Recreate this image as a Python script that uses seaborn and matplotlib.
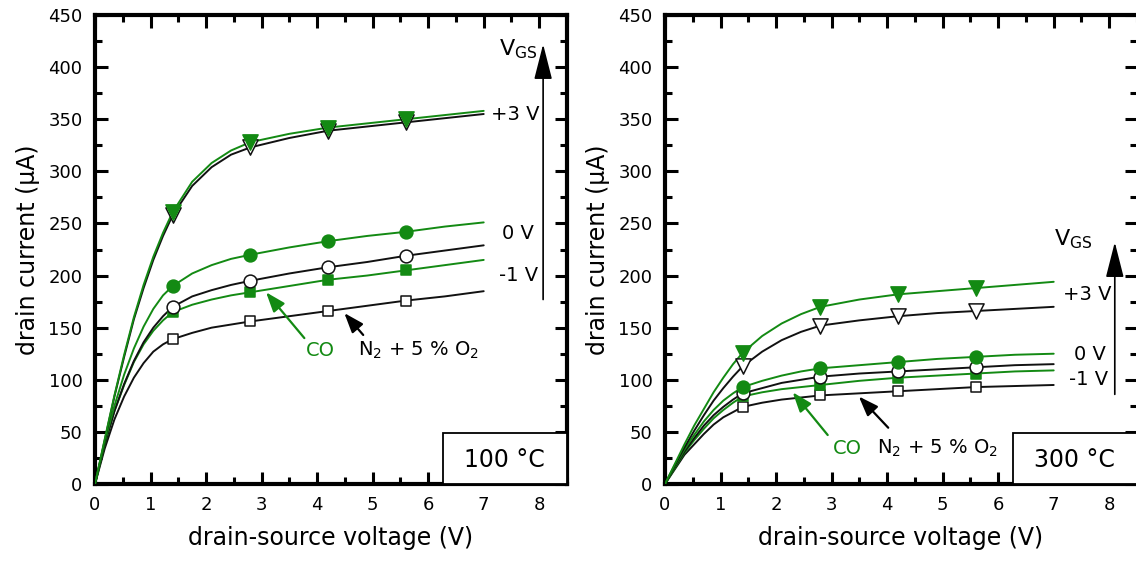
import numpy as np
import pandas as pd
import matplotlib
matplotlib.use("Agg")
import matplotlib.pyplot as plt
import seaborn as sns
from matplotlib.patches import Rectangle
from matplotlib.ticker import MultipleLocator

# ---------------- data ----------------
V = [0, 0.175, 0.35, 0.525, 0.7, 0.875, 1.05, 1.225, 1.4, 1.75, 2.1, 2.45,
     2.8, 3.5, 4.2, 4.9, 5.6, 6.3, 7.0]
marker_V = [1.4, 2.8, 4.2, 5.6]

# 100 °C
t100_co_p3 = [0, 43, 85, 124, 160, 191, 218, 241, 261, 290, 308, 320, 328, 336, 342, 346, 350, 354, 358]
t100_n2_p3 = [0, 42, 84, 122, 158, 188, 215, 238, 258, 286, 304, 316, 323, 332, 339, 343, 347, 351, 355]
t100_co_0 = [0, 40, 75, 105, 130, 151, 168, 181, 190, 202, 210, 216, 220, 227, 233, 238, 242, 247, 251]
t100_n2_0 = [0, 38, 70, 96, 118, 136, 150, 161, 170, 180, 186, 191, 195, 202, 208, 213, 219, 224, 229]
t100_co_m1 = [0, 38, 70, 95, 117, 134, 147, 157, 165, 172, 177, 181, 184, 190, 196, 200, 205, 210, 215]
t100_n2_m1 = [0, 34, 62, 84, 102, 116, 127, 134, 139, 145, 150, 153, 156, 161, 166, 171, 176, 180, 185]

# 300 °C
t300_co_p3 = [0, 19, 38, 56, 72, 88, 102, 115, 126, 142, 154, 163, 170, 177, 182, 185, 188, 191, 194]
t300_n2_p3 = [0, 18, 35, 51, 66, 80, 92, 103, 113, 127, 138, 146, 152, 157, 161, 164, 166, 168, 170]
t300_co_0 = [0, 17, 33, 47, 60, 71, 80, 87, 93, 99, 104, 108, 111, 114, 117, 120, 122, 124, 125]
t300_n2_0 = [0, 16, 31, 44, 56, 66, 74, 81, 87, 92, 97, 100, 103, 106, 108, 110, 112, 114, 115]
t300_co_m1 = [0, 15, 30, 42, 53, 63, 71, 78, 84, 88, 91, 93, 95, 99, 102, 104, 106, 108, 109]
t300_n2_m1 = [0, 14, 28, 38, 48, 57, 64, 69, 74, 78, 81, 83, 85, 87, 89, 91, 93, 94, 95]

vgs_labels = ["+3 V", "0 V", "-1 V"]
temps = ["100 °C", "300 °C"]

# ---------------- style ----------------
sns.set_theme(style="ticks")
plt.rcParams["font.family"] = ["DejaVu Sans"]
plt.rcParams["text.color"] = "black"
plt.rcParams["axes.labelcolor"] = "black"
plt.rcParams["xtick.color"] = "black"
plt.rcParams["ytick.color"] = "black"

GREEN = "#138a13"
BLACK = "#111111"

fig = plt.figure(figsize=(11.36, 5.62), dpi=100)
axL = fig.add_axes([95 / 1136, 1 - 484 / 562, 472 / 1136, 469 / 562])
axR = fig.add_axes([665 / 1136, 1 - 484 / 562, 472 / 1136, 469 / 562])


def draw_series(ax, vals, color, marker, face, ms, z):
    df = pd.DataFrame({"V": V, "I": vals})
    sns.lineplot(data=df, x="V", y="I", ax=ax, color=color, lw=1.4,
                 sort=False, estimator=None, zorder=z)
    dm = df[df["V"].isin(marker_V)]
    sns.scatterplot(data=dm, x="V", y="I", ax=ax, marker=marker, s=ms,
                    color=face, edgecolor=color, linewidth=1.1, zorder=z + 0.5)


def style_axes(ax):
    ax.set_xlim(0, 8.5)
    ax.set_ylim(0, 450)
    ax.xaxis.set_major_locator(MultipleLocator(1))
    ax.xaxis.set_minor_locator(MultipleLocator(0.5))
    ax.yaxis.set_major_locator(MultipleLocator(50))
    ax.yaxis.set_minor_locator(MultipleLocator(25))
    ax.set_xticks([0, 1, 2, 3, 4, 5, 6, 7, 8])
    ax.tick_params(which="both", direction="in", top=True, right=True,
                   width=2.2, color="black", labelsize=13, labelcolor="black")
    ax.tick_params(which="major", length=9, pad=9)
    ax.tick_params(which="minor", length=5)
    for s in ax.spines.values():
        s.set_linewidth(3)
        s.set_color("black")
    ax.set_xlabel("drain-source voltage (V)", fontsize=17, labelpad=8)
    ax.set_ylabel("drain current (µA)", fontsize=17, labelpad=6)


def temp_box(ax, text):
    r = Rectangle((0.737, 0), 0.263, 0.109, transform=ax.transAxes,
                  facecolor="white", edgecolor="black", lw=1.3, zorder=5,
                  clip_on=False)
    ax.add_patch(r)
    ax.text(0.868, 0.052, text, transform=ax.transAxes, ha="center",
            va="center", fontsize=17, zorder=6)


panels = [
    (axL, [t100_n2_m1, t100_co_m1, t100_n2_0, t100_co_0, t100_n2_p3, t100_co_p3]),
    (axR, [t300_n2_m1, t300_co_m1, t300_n2_0, t300_co_0, t300_n2_p3, t300_co_p3]),
]
specs = [
    (BLACK, "s", "white", 60),
    (GREEN, "s", GREEN, 60),
    (BLACK, "o", "white", 85),
    (GREEN, "o", GREEN, 85),
    (BLACK, "v", "white", 120),
    (GREEN, "v", GREEN, 120),
]

for ax, series in panels:
    for i, (vals, (c, m, f, s)) in enumerate(zip(series, specs)):
        draw_series(ax, vals, c, m, f, s, 3 + i * 0.1)
    style_axes(ax)

temp_box(axL, temps[0])
temp_box(axR, temps[1])

SMALL = dict(arrowstyle="-|>,head_length=0.6,head_width=0.22",
             mutation_scale=20, lw=1.6, shrinkA=0, shrinkB=0)
BIG = dict(arrowstyle="-|>,head_length=1.1,head_width=0.28",
           mutation_scale=20, color="black", lw=1.2, shrinkA=0, shrinkB=0)

# ---- left panel annotations ----
axL.annotate("", xy=(8.07, 422), xytext=(8.07, 177), arrowprops=BIG)
axL.text(7.63, 417, "V$_{\\mathregular{GS}}$", fontsize=16, ha="center", va="center")
axL.text(7.57, 355, vgs_labels[0], fontsize=14, ha="center", va="center")
axL.text(7.62, 240, vgs_labels[1], fontsize=14, ha="center", va="center")
axL.text(7.62, 200, vgs_labels[2], fontsize=14, ha="center", va="center")
axL.text(4.05, 128, "CO", color=GREEN, fontsize=14, ha="center", va="center")
axL.text(5.83, 128, "N$_\\mathregular{2}$ + 5 % O$_\\mathregular{2}$", fontsize=14,
         ha="center", va="center")
axL.annotate("", xy=(3.08, 184), xytext=(3.77, 140),
             arrowprops=dict(SMALL, color=GREEN))
axL.annotate("", xy=(4.49, 164), xytext=(4.83, 143),
             arrowprops=dict(SMALL, color="black"))

# ---- right panel annotations ----
axR.annotate("", xy=(8.1, 232), xytext=(8.1, 86), arrowprops=BIG)
axR.text(7.35, 235, "V$_{\\mathregular{GS}}$", fontsize=16, ha="center", va="center")
axR.text(7.6, 182, vgs_labels[0], fontsize=14, ha="center", va="center")
axR.text(7.65, 124, vgs_labels[1], fontsize=14, ha="center", va="center")
axR.text(7.62, 100, vgs_labels[2], fontsize=14, ha="center", va="center")
axR.text(3.28, 34, "CO", color=GREEN, fontsize=14, ha="center", va="center")
axR.text(4.9, 34, "N$_\\mathregular{2}$ + 5 % O$_\\mathregular{2}$", fontsize=14,
         ha="center", va="center")
axR.annotate("", xy=(2.3, 88), xytext=(2.93, 47),
             arrowprops=dict(SMALL, color=GREEN))
axR.annotate("", xy=(3.49, 84), xytext=(4.02, 54),
             arrowprops=dict(SMALL, color="black"))

fig.savefig("out.png", dpi=100)
